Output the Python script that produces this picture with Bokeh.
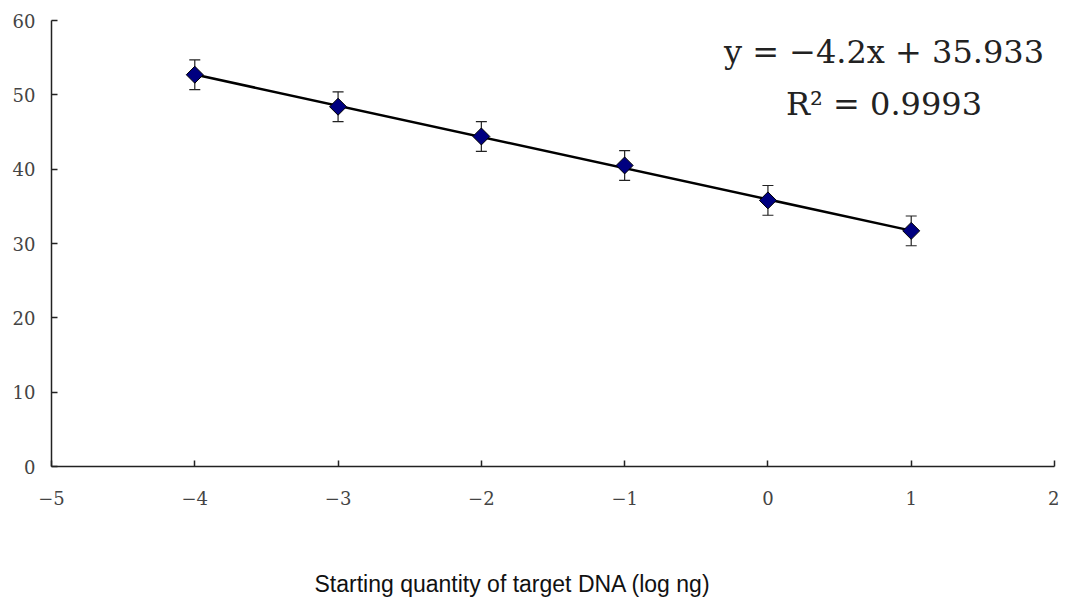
import numpy as np
from bokeh.plotting import figure
from bokeh.models import Range1d, FixedTicker, Whisker, ColumnDataSource, TeeHead, Label, Title
from bokeh.embed import file_html
from bokeh.resources import INLINE

# Data
log_ng = [-4, -3, -2, -1, 0, 1]
ct_values = [52.7, 48.4, 44.4, 40.5, 35.8, 31.7]
ct_err = [2.0, 2.0, 2.0, 2.0, 2.0, 2.0]
trend_slope = -4.2
trend_intercept = 35.933
trend_x = [-4, 1]
r_squared = 0.9993
x_ticks = [-5, -4, -3, -2, -1, 0, 1, 2]
y_ticks = [0, 10, 20, 30, 40, 50, 60]
x_title = "Starting quantity of target DNA (log ng)"

p = figure(width=1059, height=597, output_backend="svg", toolbar_location=None,
           x_range=Range1d(-5, 2), y_range=Range1d(0, 60),
           min_border_left=51, min_border_right=5, min_border_top=20,
           min_border_bottom=131)
p.outline_line_color = None
p.xgrid.visible = False
p.ygrid.visible = False
p.background_fill_color = "white"

serif = "DejaVu Serif"
for ax in (p.xaxis[0], p.yaxis[0]):
    ax.axis_line_color = "#222222"
    ax.axis_line_width = 1.5
    ax.major_tick_line_color = "#222222"
    ax.major_tick_line_width = 1.5
    ax.major_tick_in = 6
    ax.major_tick_out = 0
    ax.minor_tick_line_color = None
    ax.major_label_text_font = serif
    ax.major_label_text_font_size = "18px"
    ax.major_label_text_color = "#444444"

p.xaxis.ticker = FixedTicker(ticks=x_ticks)
p.yaxis.ticker = FixedTicker(ticks=y_ticks)
p.xaxis.major_label_overrides = {t: str(t).replace("-", "\u2212") for t in x_ticks}
p.xaxis.major_label_standoff = 24
p.yaxis.major_label_standoff = 16

# blank spacer label on the x axis to push the title down
p.xaxis.axis_label = "\u00a0"
p.xaxis.axis_label_text_font_size = "23px"
p.xaxis.axis_label_standoff = 32

# X axis title (below, left of centre as in the reference)
p.add_layout(Title(text=x_title, align="left", offset=263, standoff=0,
                   vertical_align="bottom",
                   text_font="Liberation Sans", text_font_size="23px",
                   text_font_style="normal", text_color="#111111"), "below")

# Trend line
ty = [trend_slope * x + trend_intercept for x in trend_x]
p.line(trend_x, ty, line_color="black", line_width=2.5)

# Error bars
src = ColumnDataSource(dict(x=log_ng, y=ct_values,
                            upper=[v + e for v, e in zip(ct_values, ct_err)],
                            lower=[v - e for v, e in zip(ct_values, ct_err)]))
w = Whisker(base="x", upper="upper", lower="lower", source=src,
            line_color="#222222", line_width=1.2,
            upper_head=TeeHead(size=11, line_color="#222222", line_width=1.2),
            lower_head=TeeHead(size=11, line_color="#222222", line_width=1.2))
p.add_layout(w)

# Markers
p.scatter("x", "y", source=src, marker="square", angle=np.pi / 4, size=12,
          fill_color="#000080", line_color="black", line_width=1)

# Equation
eq = "y = \u22124.2x + %.3f" % trend_intercept
p.add_layout(Label(x=0.81, y=55.7, text=eq,
                   text_font=serif, text_font_size="32px", text_align="center",
                   text_baseline="alphabetic", text_color="#222222"))
p.add_layout(Label(x=0.81, y=48.7,
                   text="R\u00b2 = %.4f" % r_squared,
                   text_font=serif, text_font_size="32px", text_align="center",
                   text_baseline="alphabetic", text_color="#222222"))

open("out.html", "w").write(file_html(p, INLINE))
